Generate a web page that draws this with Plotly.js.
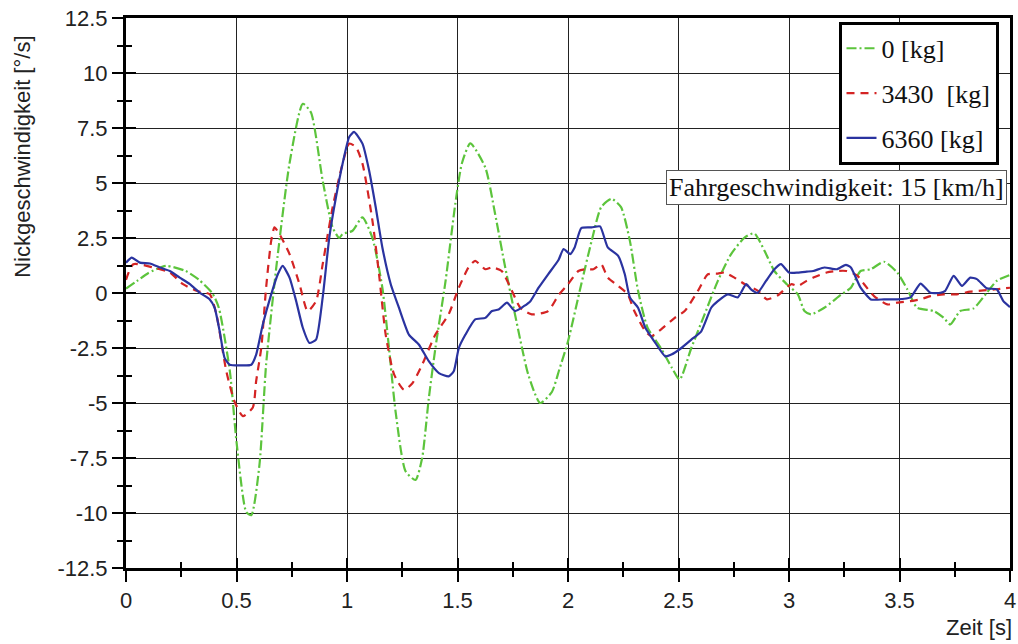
<!DOCTYPE html>
<html>
<head>
<meta charset="utf-8">
<script src="https://cdn.plot.ly/plotly-3.0.1.min.js"></script>
<style>html,body{margin:0;padding:0;background:#fff}#chart{width:1018px;height:644px}</style>
</head>
<body>
<div id="chart"></div>
<script>
// ---- data ----
const seriesNames = ["0 [kg]", "3430\u00a0 [kg]", "6360 [kg]"];

const t0 = [0,0.05,0.1,0.18,0.27,0.33,0.39,0.42,0.47,0.5,0.544,0.567,0.604,0.634,0.68,0.74,0.80,0.837,0.89,0.935,0.965,0.98,1.025,1.07,1.115,1.16,1.19,1.22,1.265,1.31,1.34,1.37,1.40,1.446,1.49,1.52,1.558,1.626,1.67,1.716,1.76,1.82,1.874,1.927,1.96,2.0,2.06,2.107,2.15,2.197,2.24,2.28,2.317,2.36,2.42,2.47,2.505,2.558,2.618,2.678,2.738,2.8,2.843,2.889,2.934,2.99,3.04,3.07,3.1,3.16,3.234,3.28,3.324,3.37,3.43,3.49,3.535,3.58,3.655,3.7,3.73,3.775,3.835,3.895,3.94,4.0];
const y0 = [0.2,0.55,0.9,1.23,1.0,0.6,0.0,-0.67,-3.56,-6.76,-9.95,-10.1,-7.8,-3.25,1.16,5.9,8.6,8.2,5.1,2.98,2.5,2.68,2.83,3.44,2.5,0.24,-2.5,-5.4,-8.1,-8.5,-7.5,-4.8,-2.5,0.55,4.05,5.9,6.8,5.7,3.6,1.16,-0.97,-3.7,-5.0,-4.5,-3.5,-2.2,0.4,2.37,3.9,4.28,3.9,2.37,0.1,-1.58,-2.5,-3.4,-3.94,-2.5,-0.97,0.55,1.77,2.53,2.71,1.92,1.0,0.4,-0.06,-0.82,-0.97,-0.67,-0.09,0.24,1.0,1.08,1.42,0.93,0.17,-0.67,-0.82,-1.13,-1.43,-0.82,-0.7,0.01,0.55,0.82];

const t3430 = [0,0.033,0.123,0.198,0.258,0.319,0.379,0.409,0.454,0.491,0.529,0.574,0.589,0.612,0.634,0.657,0.672,0.694,0.74,0.785,0.822,0.86,0.89,0.935,0.98,1.01,1.04,1.07,1.115,1.145,1.175,1.213,1.258,1.296,1.34,1.40,1.46,1.506,1.55,1.58,1.626,1.656,1.70,1.746,1.784,1.836,1.91,1.957,2.0,2.047,2.077,2.115,2.15,2.18,2.227,2.27,2.30,2.35,2.377,2.42,2.483,2.528,2.588,2.633,2.678,2.708,2.753,2.8,2.86,2.9,2.95,3.01,3.04,3.08,3.11,3.17,3.216,3.26,3.31,3.34,3.385,3.445,3.49,3.55,3.595,3.64,3.7,3.76,3.82,3.88,3.94,4.0];
const y3430 = [0.6,1.31,1.16,0.93,0.4,0.1,-0.06,-0.97,-3.56,-4.93,-5.6,-5.2,-4.0,-2.5,0.24,2.37,2.98,2.68,1.77,0.4,-0.82,-0.37,1.31,3.9,5.88,6.79,6.64,5.88,3.29,0.85,-1.89,-3.7,-4.4,-4.1,-3.26,-1.89,-0.97,0.24,1.16,1.46,1.08,1.16,1.0,0.1,-0.67,-0.97,-0.82,-0.1,0.4,1.0,1.08,1.08,1.31,0.7,0.32,-0.06,-0.82,-1.74,-1.96,-1.66,-1.13,-0.82,0.1,0.85,0.88,0.93,0.7,0.4,0.1,-0.29,-0.1,0.4,0.32,0.55,0.7,0.93,1.0,1.0,0.78,0.4,-0.14,-0.52,-0.44,-0.37,-0.29,-0.14,-0.06,-0.06,0.06,0.12,0.17,0.24];

const t6360 = [0,0.026,0.063,0.108,0.153,0.198,0.243,0.289,0.334,0.379,0.401,0.424,0.446,0.469,0.529,0.567,0.589,0.619,0.657,0.687,0.709,0.74,0.77,0.80,0.83,0.86,0.89,0.92,0.95,0.98,1.01,1.032,1.07,1.10,1.13,1.16,1.198,1.235,1.28,1.325,1.37,1.416,1.46,1.483,1.506,1.536,1.58,1.626,1.656,1.686,1.724,1.76,1.80,1.83,1.867,1.91,1.957,1.98,2.01,2.03,2.06,2.107,2.145,2.18,2.227,2.257,2.28,2.317,2.35,2.39,2.44,2.468,2.513,2.558,2.603,2.648,2.678,2.723,2.768,2.806,2.828,2.858,2.896,2.934,2.964,3.0,3.04,3.08,3.11,3.16,3.216,3.257,3.28,3.324,3.37,3.43,3.49,3.55,3.595,3.64,3.685,3.707,3.745,3.783,3.82,3.85,3.895,3.94,3.97,4.0];
const y6360 = [1.38,1.61,1.38,1.34,1.16,1.0,0.7,0.4,0.01,-0.29,-0.67,-1.74,-2.95,-3.26,-3.29,-3.26,-2.8,-1.43,-0.06,0.85,1.23,0.7,-0.37,-1.58,-2.27,-2.12,-0.2,2.53,4.35,5.88,7.09,7.32,6.79,5.57,3.9,2.07,0.4,-0.67,-1.89,-2.34,-3.1,-3.64,-3.79,-3.56,-2.5,-1.89,-1.2,-1.13,-0.82,-0.75,-0.44,-0.82,-0.6,-0.37,0.24,0.85,1.5,2.0,1.77,2.07,2.95,2.98,3.03,2.07,1.69,0.85,-0.2,-0.67,-1.58,-2.19,-2.88,-2.8,-2.5,-2.12,-1.74,-0.67,-0.37,-0.06,-0.2,0.4,0.17,0.01,0.55,1.08,1.31,0.93,0.93,0.97,1.0,1.16,1.08,1.28,1.16,0.24,-0.29,-0.29,-0.29,-0.2,0.43,0.01,0.01,0.1,0.78,0.32,0.7,0.63,0.21,0.17,-0.37,-0.64];

const xTickVals = [0,0.5,1,1.5,2,2.5,3,3.5,4];
const xTickText = ["0","0.5","1","1.5","2","2.5","3","3.5","4"];
const yTickVals = [12.5,10,7.5,5,2.5,0,-2.5,-5,-7.5,-10,-12.5];
const yTickText = ["12.5","10","7.5","5","2.5","0","-2.5","-5","-7.5","-10","-12.5"];

const xTitle = "Zeit [s]";
const yTitle = "Nickgeschwindigkeit [°/s]";
const noteText = "Fahrgeschwindigkeit: 15 [km/h]";

// ---- chart ----
const sans = "Liberation Sans, Arial, sans-serif";
const serif = "Liberation Serif, Times New Roman, serif";

const traces = [
  {x: t0, y: y0, name: seriesNames[0], mode: "lines", legendgroup: "a",
   line: {color: "#5cc43c", width: 2.2, dash: "10px,3px,2px,3px", shape: "spline", smoothing: 0.6}},
  {x: t3430, y: y3430, name: seriesNames[1], mode: "lines", legendgroup: "b",
   line: {color: "#d42424", width: 2.2, dash: "8px,6px", shape: "spline", smoothing: 0.6}},
  {x: t6360, y: y6360, name: seriesNames[2], mode: "lines", legendgroup: "c",
   line: {color: "#2a33a0", width: 2.2, shape: "spline", smoothing: 0.5}},
  {x: [null], y: [null], xaxis: "x2", yaxis: "y2", showlegend: false, hoverinfo: "skip", mode: "lines"}
];

const axBase = {
  showline: true, linewidth: 3, linecolor: "#000", mirror: true,
  showgrid: true, gridcolor: "#222", gridwidth: 1, zeroline: false,
  ticks: "outside", ticklen: 11, tickwidth: 2, tickcolor: "#000",
  tickfont: {family: sans, size: 22, color: "#222"}
};

const layout = {
  width: 1018, height: 644,
  margin: {l: 126, r: 8, t: 18, b: 76},
  paper_bgcolor: "#fff", plot_bgcolor: "#fff",
  showlegend: true,
  xaxis: Object.assign({}, axBase, {
    range: [0, 4], tickmode: "array", tickvals: xTickVals, ticktext: xTickText,
    ticklabeloverflow: "allow",
    minor: {dtick: 0.25, tick0: 0, ticks: "outside", ticklen: 6, tickwidth: 2, tickcolor: "#000", showgrid: false}
  }),
  yaxis: Object.assign({}, axBase, {
    range: [-12.5, 12.5], tickmode: "array", tickvals: yTickVals, ticktext: yTickText,
    minor: {dtick: 1.25, tick0: 0, ticks: "outside", ticklen: 6, tickwidth: 2, tickcolor: "#000", showgrid: false}
  }),
  xaxis2: {
    overlaying: "x", anchor: "y2", range: [0, 4], side: "bottom",
    showgrid: false, zeroline: false, showline: false, showticklabels: false,
    tickmode: "array", tickvals: xTickVals,
    ticks: "inside", ticklen: 10, tickwidth: 2, tickcolor: "#000",
    minor: {dtick: 0.25, tick0: 0, ticks: "inside", ticklen: 6, tickwidth: 2, tickcolor: "#000", showgrid: false}
  },
  yaxis2: {
    overlaying: "y", anchor: "x2", range: [-12.5, 12.5], side: "left",
    showgrid: false, zeroline: false, showline: false, showticklabels: false,
    tickmode: "array", tickvals: yTickVals,
    ticks: "inside", ticklen: 10, tickwidth: 2, tickcolor: "#000",
    minor: {dtick: 1.25, tick0: 0, ticks: "inside", ticklen: 6, tickwidth: 2, tickcolor: "#000", showgrid: false}
  },
  legend: {
    x: 0.806, y: 0.993, xanchor: "left", yanchor: "top",
    bgcolor: "#fff", bordercolor: "#000", borderwidth: 3,
    font: {family: serif, size: 26, color: "#111"},
    tracegroupgap: 8, itemwidth: 30
  },
  annotations: [
    {xref: "paper", yref: "paper", x: 1.004, y: -0.109, xanchor: "right", yanchor: "middle",
     text: xTitle, showarrow: false, font: {family: sans, size: 22, color: "#222"}},
    {xref: "paper", yref: "paper", x: -0.118, y: 0.747, xanchor: "center", yanchor: "middle",
     textangle: -90, text: yTitle, showarrow: false, font: {family: sans, size: 22, color: "#222"}},
    {xref: "paper", yref: "paper", x: 0.804, y: 0.692, xanchor: "center", yanchor: "middle",
     text: noteText, showarrow: false, bgcolor: "#fff", bordercolor: "#555", borderwidth: 1, borderpad: 2,
     font: {family: serif, size: 26, color: "#111"}}
  ]
};

Plotly.newPlot("chart", traces, layout, {displayModeBar: false, staticPlot: true});
</script>
</body>
</html>
